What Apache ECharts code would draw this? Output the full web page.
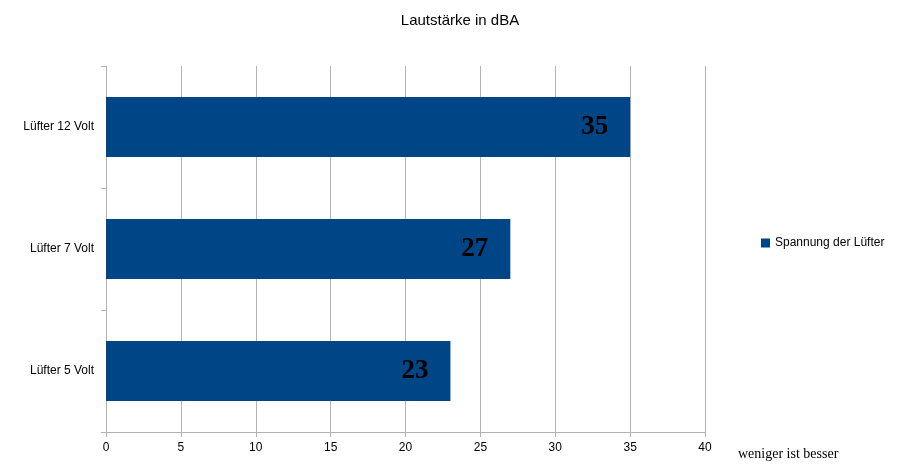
<!DOCTYPE html>
<html><head><meta charset="utf-8">
<script src="https://cdn.jsdelivr.net/npm/echarts@6/dist/echarts.min.js"></script>
<style>html,body{margin:0;padding:0;background:#fff}#c{width:910px;height:476px}</style>
</head><body><div id="c"></div>
<script>
const categories = ['Lüfter 5 Volt','Lüfter 7 Volt','Lüfter 12 Volt'];
const values = [23, 27, 35];
const seriesName = 'Spannung der Lüfter';
const chart = echarts.init(document.getElementById('c'));
chart.setOption({
  animation:false,
  title:{text:'Lautstärke in dBA',left:455,textAlign:'center',top:8,textStyle:{fontFamily:'Liberation Sans, Arial',fontWeight:'normal',fontSize:15,color:'#000'}},
  legend:{data:[seriesName],orient:'vertical',left:756,top:232,itemWidth:9,itemHeight:9,icon:'rect',itemGap:4,textStyle:{fontFamily:'Liberation Sans, Arial',fontSize:12,color:'#000'}},
  grid:{left:106,right:205,top:66,bottom:44},
  xAxis:{type:'value',min:0,max:40,interval:5,
    axisLine:{show:true,lineStyle:{color:'#b3b3b3'}},axisTick:{show:true,length:5,lineStyle:{color:'#b3b3b3'}},
    splitLine:{lineStyle:{color:'#b3b3b3'}},
    axisLabel:{fontFamily:'Liberation Sans, Arial',fontSize:12,color:'#000',margin:10}},
  yAxis:{type:'category',data:categories,
    axisLine:{show:true,lineStyle:{color:'#b3b3b3'}},axisTick:{show:true,length:5,lineStyle:{color:'#b3b3b3'}},
    axisLabel:{fontFamily:'Liberation Sans, Arial',fontSize:12,color:'#000',margin:12}},
  graphic:[{type:'text',left:738,top:447,style:{text:'weniger ist besser',font:'14px "Liberation Serif", serif',fill:'#000'}}],
  series:[{name:seriesName,type:'bar',data:values,barWidth:'49%',itemStyle:{color:'#004586'},
    label:{show:true,position:'insideRight',distance:22,fontFamily:'Liberation Serif, serif',fontWeight:'bold',fontSize:27,color:'#000'}}]
});
</script></body></html>
